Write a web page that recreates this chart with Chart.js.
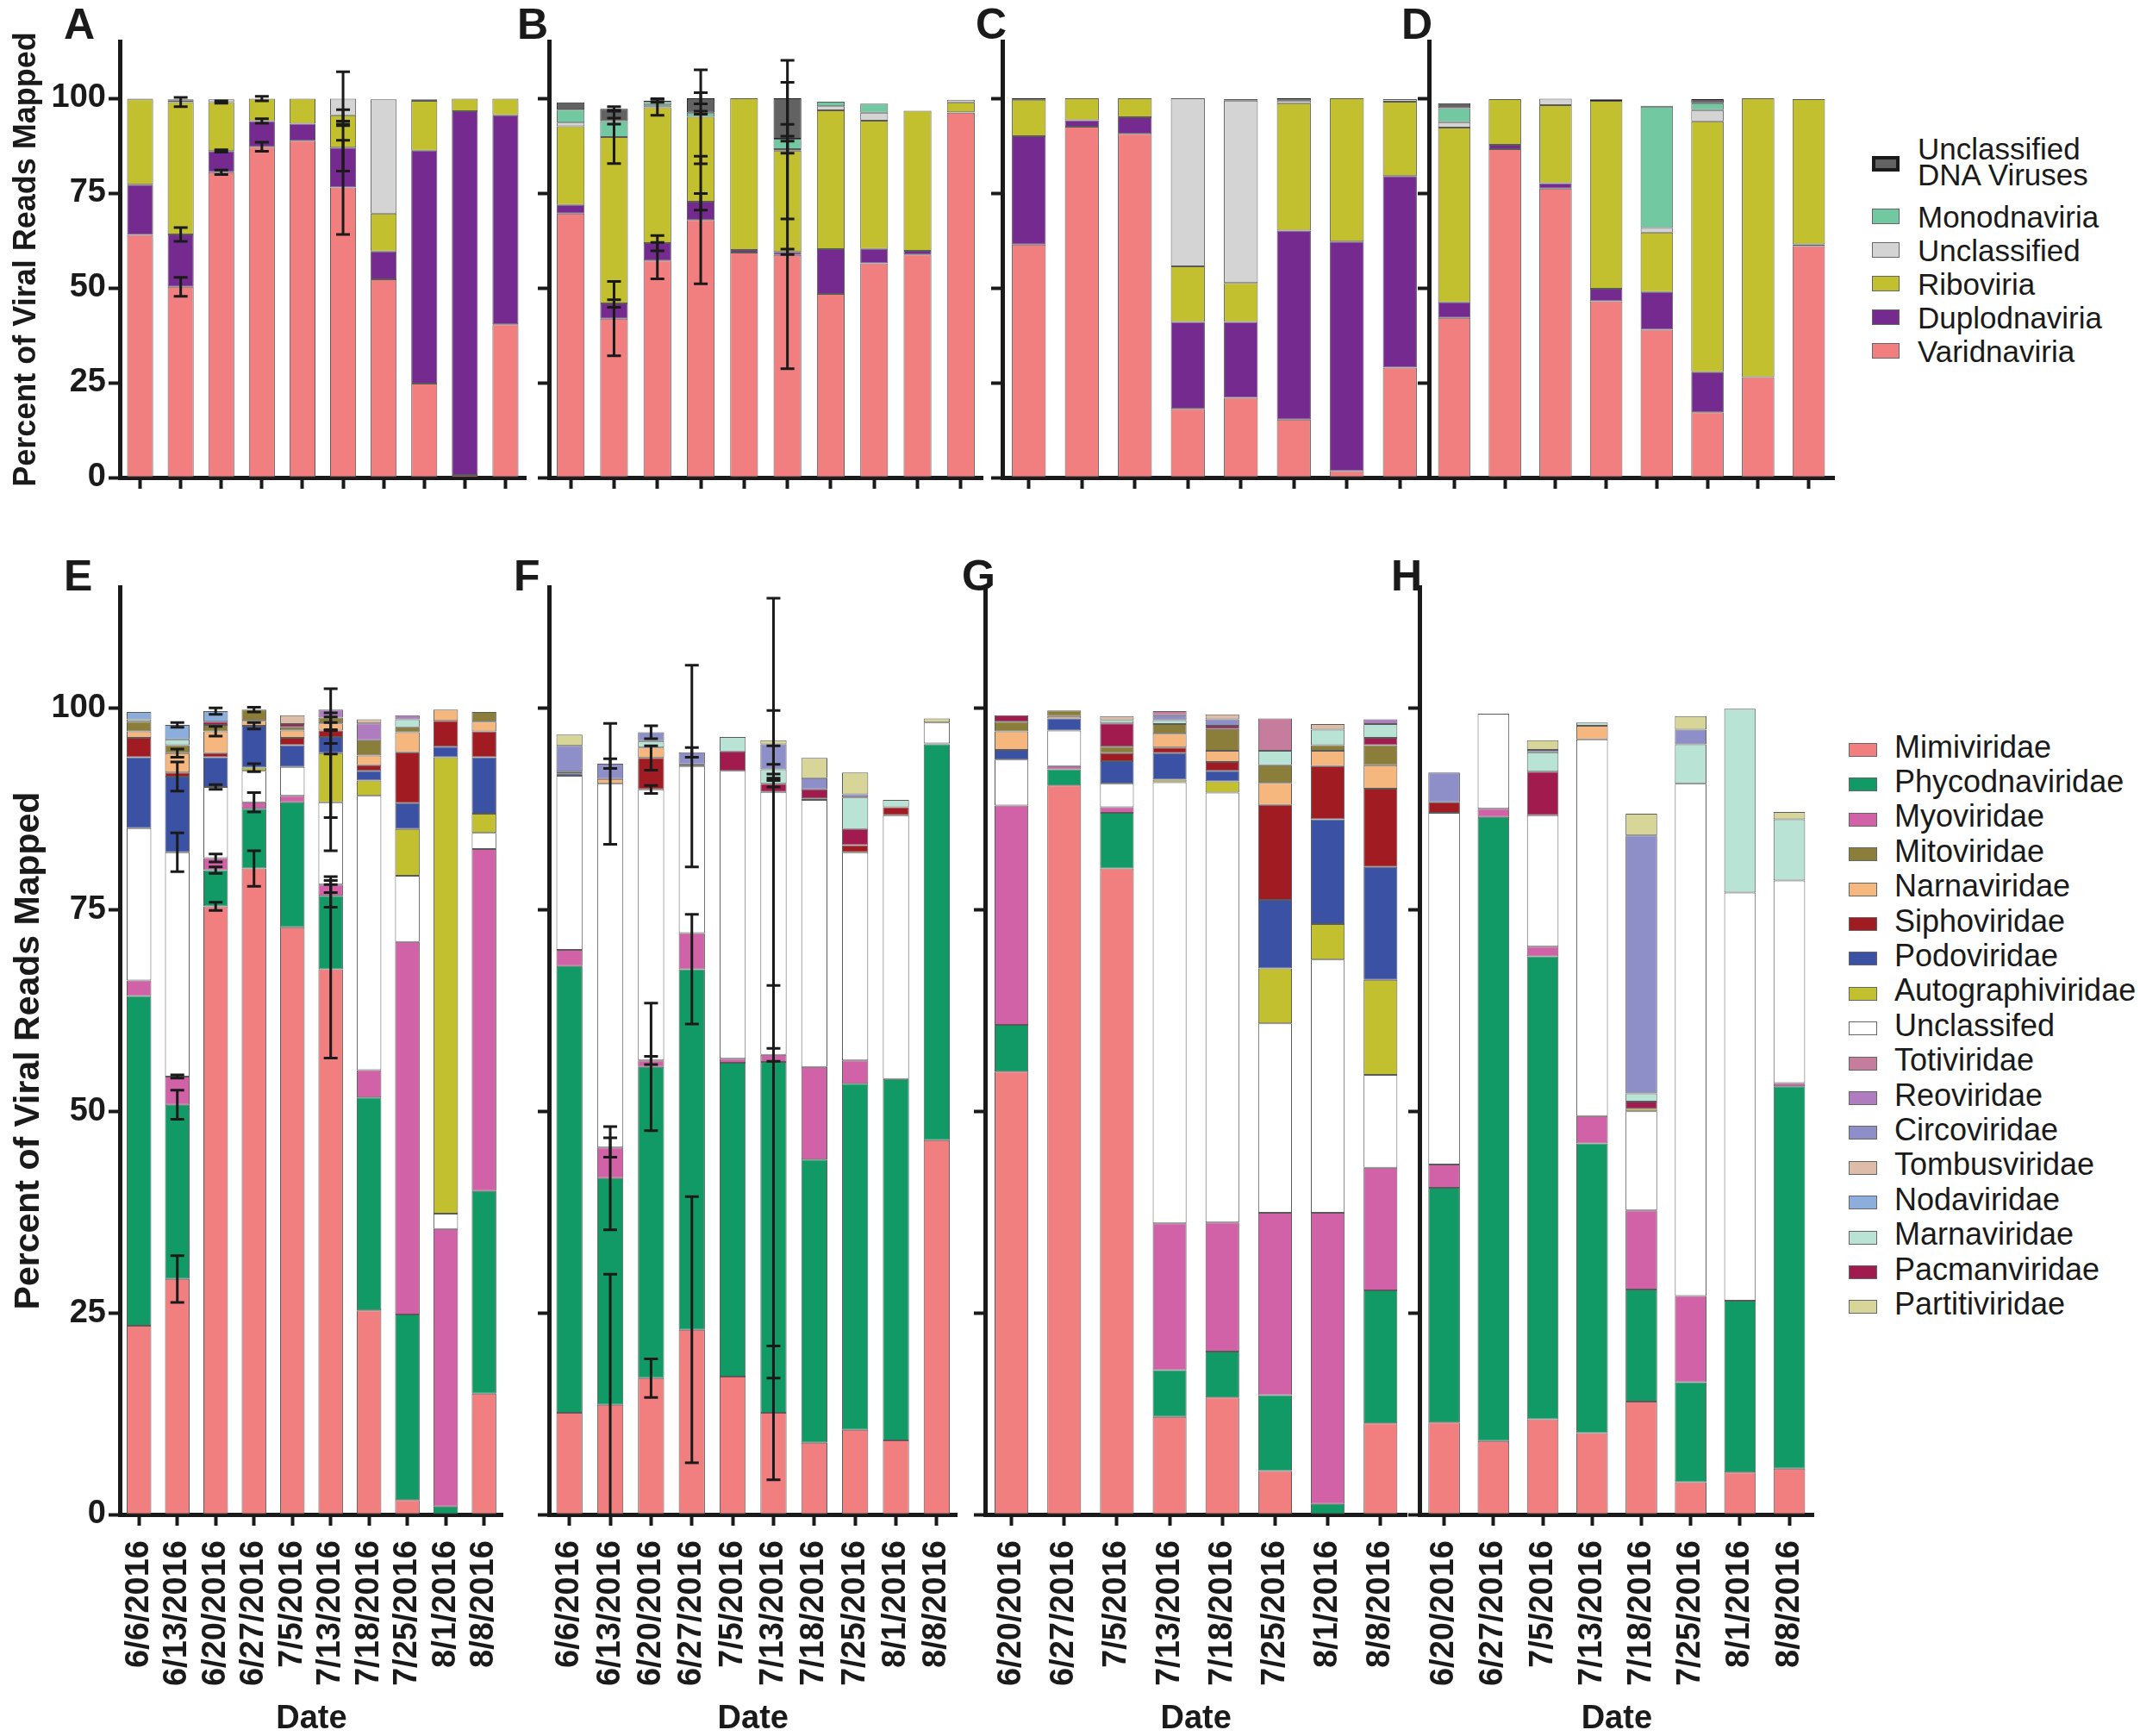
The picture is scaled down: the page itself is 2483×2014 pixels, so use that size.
<!DOCTYPE html>
<html>
<head>
<meta charset="utf-8">
<script src="https://cdn.jsdelivr.net/npm/chart.js@4.4.1/dist/chart.umd.min.js"></script>
<style>
  body { margin: 0; background: #fff; }
  #page { position: relative; width: 2483px; height: 2014px; overflow: hidden;
          font-family: 'Liberation Sans', Arial, Helvetica, sans-serif; color: #1a1a1a; }
  #page canvas { position: absolute; }
  .letter { position: absolute; font-weight: bold; font-size: 50px; line-height: 1; }
  .key { position: absolute; line-height: 1; white-space: nowrap; }
  .swatch { position: absolute; box-sizing: border-box; border: 1.5px solid #666; }
</style>
</head>
<body>
<div id="page"></div>
<script>
// sampling dates (panels A, B, E, F use all ten, C, D, G, H start on 6/20)
const datesLong = ['6/6/2016', '6/13/2016', '6/20/2016', '6/27/2016', '7/5/2016',
                   '7/13/2016', '7/18/2016', '7/25/2016', '8/1/2016', '8/8/2016'];
const datesShort = ['6/20/2016', '6/27/2016', '7/5/2016', '7/13/2016',
                    '7/18/2016', '7/25/2016', '8/1/2016', '8/8/2016'];
const yTicks = [0, 25, 50, 75, 100];
const yMax = 115;

// top row: realms, in stacking order (bottom first)
const realmNames = ['Varidnaviria', 'Duplodnaviria', 'Riboviria', 'Unclassified',
                    'Monodnaviria', 'Unclassified DNA Viruses'];
const realmColors = ['#f27f7f', '#742a8e', '#c3c02f', '#d4d4d4', '#72c8a0', '#626262'];

const realmA = [
  [64.0, 50.3, 80.5, 87.2, 88.8, 76.5, 52.3, 24.8, 0.7, 40.4],
  [13.2, 13.8, 5.6, 6.8, 4.5, 10.5, 7.3, 61.4, 95.9, 55.1],
  [22.5, 34.9, 12.9, 5.9, 6.6, 8.5, 10.0, 13.1, 3.3, 4.4],
  [0.2, 0.4, 0.7, 0, 0, 4.4, 30.1, 0.4, 0, 0],
  [0, 0.3, 0, 0, 0, 0, 0, 0, 0, 0],
  [0, 0, 0, 0, 0, 0, 0, 0, 0, 0]
];
const realmB = [
  [69.6, 41.9, 57.2, 67.9, 59.3, 58.7, 48.4, 56.5, 58.8, 96.2],
  [2.3, 4.0, 4.6, 4.8, 0.7, 0.8, 11.8, 3.8, 1.0, 0.1],
  [20.7, 43.9, 35.8, 22.4, 40.0, 26.7, 36.6, 33.8, 36.9, 2.6],
  [1.0, 0, 0.5, 0, 0, 0.4, 1.1, 2.1, 0, 0.7],
  [3.4, 4.2, 0.9, 1.1, 0, 2.7, 1.2, 2.4, 0, 0],
  [1.9, 3.2, 0.4, 3.8, 0, 10.7, 0, 0, 0, 0]
];
const realmC = [
  [61.4, 92.5, 90.6, 18.1, 21.0, 15.3, 1.7, 29.0],
  [28.6, 1.7, 4.4, 22.9, 20.0, 49.8, 60.5, 50.5],
  [9.6, 5.8, 5.0, 14.7, 10.3, 33.6, 37.8, 19.6],
  [0, 0, 0, 44.3, 48.1, 0.7, 0, 0.7],
  [0, 0, 0, 0, 0.4, 0, 0, 0],
  [0.4, 0, 0, 0, 0, 0.6, 0, 0]
];
const realmD = [
  [42.1, 86.6, 76.2, 46.5, 39.0, 17.2, 26.5, 61.0],
  [4.1, 1.1, 1.4, 3.3, 9.9, 10.6, 0, 0.5],
  [46.1, 12.1, 20.6, 49.5, 15.7, 66.1, 73.5, 38.3],
  [1.4, 0, 1.7, 0, 1.2, 3.0, 0, 0],
  [3.7, 0, 0, 0, 32.0, 1.8, 0, 0],
  [1.3, 0, 0, 0.4, 0.2, 1.1, 0, 0]
];

// bottom row: families, in stacking order (bottom first)
const familyNames = ['Mimiviridae', 'Phycodnaviridae', 'Myoviridae', 'Unclassifed',
  'Autographiviridae', 'Podoviridae', 'Siphoviridae', 'Narnaviridae', 'Mitoviridae',
  'Pacmanviridae', 'Marnaviridae', 'Circoviridae', 'Totiviridae', 'Reoviridae',
  'Tombusviridae', 'Nodaviridae', 'Partitiviridae'];
const familyColors = ['#f27f7f', '#129a66', '#d262a7', '#ffffff',
  '#c3c02f', '#3b52a4', '#a01c22', '#f6b77e', '#8b7d3a',
  '#a11b4e', '#b8e3d5', '#8e8fc8', '#c67c9c', '#b07cc0',
  '#ddbda8', '#8caedd', '#d8d598'];
// order in which the legend lists them
const familyLegend = ['Mimiviridae', 'Phycodnaviridae', 'Myoviridae', 'Mitoviridae',
  'Narnaviridae', 'Siphoviridae', 'Podoviridae', 'Autographiviridae', 'Unclassifed',
  'Totiviridae', 'Reoviridae', 'Circoviridae', 'Tombusviridae', 'Nodaviridae',
  'Marnaviridae', 'Pacmanviridae', 'Partitiviridae'];

const familyE = [
  [23.4, 29.2, 75.4, 80.1, 72.8, 67.6, 25.3, 1.8, 0, 15.0],
  [40.9, 21.6, 4.5, 7.4, 15.5, 9.1, 26.4, 23.0, 1.0, 25.1],
  [1.9, 3.5, 1.5, 0.8, 0.8, 1.4, 3.4, 46.2, 34.4, 42.4],
  [18.9, 27.8, 8.8, 3.9, 3.6, 10.2, 34.0, 8.2, 1.9, 2.0],
  [0, 0, 0, 0.4, 0, 6.1, 1.9, 5.8, 56.6, 2.4],
  [8.8, 9.4, 3.7, 5.2, 2.7, 2.0, 1.2, 3.2, 1.3, 7.0],
  [2.4, 0.5, 0.5, 0, 0.9, 0.8, 0.7, 6.3, 3.2, 3.2],
  [0.8, 2.4, 2.7, 0.6, 0.9, 0.9, 1.2, 2.5, 1.4, 1.2],
  [1.2, 1.0, 0.8, 1.4, 0.4, 0.7, 1.9, 0.6, 0, 1.2],
  [0, 0, 0.4, 0, 0.4, 0, 0, 0, 0, 0],
  [0.3, 0.7, 0, 0, 0, 0, 0, 1.0, 0, 0],
  [0, 0, 0, 0, 0, 0, 0, 0, 0, 0],
  [0, 0, 0, 0, 0, 0, 0, 0, 0, 0],
  [0, 0, 0, 0, 0, 1.0, 2.1, 0.5, 0, 0],
  [0, 0, 0, 0, 1.1, 0, 0.5, 0, 0, 0],
  [0.9, 1.8, 1.3, 0, 0, 0, 0, 0, 0, 0],
  [0, 0, 0, 0, 0, 0, 0, 0, 0, 0]
];
const familyF = [
  [12.6, 13.6, 16.9, 22.9, 17.1, 12.6, 8.9, 10.5, 9.2, 46.4],
  [55.4, 28.1, 38.6, 44.7, 38.9, 43.5, 35.1, 42.9, 44.8, 49.1],
  [2.0, 3.8, 0.8, 4.5, 0.5, 0.9, 11.5, 2.9, 0, 0.1],
  [21.6, 45.1, 33.6, 20.7, 35.7, 32.6, 33.1, 25.8, 32.7, 2.6],
  [0, 0, 0, 0, 0, 0, 0.2, 0, 0, 0],
  [0.3, 0, 0, 0, 0, 0, 0, 0, 0, 0],
  [0, 0, 3.9, 0.2, 0, 0, 0, 0.9, 1.0, 0],
  [0.2, 0.6, 1.3, 0, 0, 0, 0, 0, 0, 0],
  [0, 0, 0, 0, 0, 0, 0, 0, 0, 0],
  [0, 0, 0, 0, 2.4, 1.0, 1.1, 2.0, 0, 0],
  [0, 0, 0.8, 0, 1.8, 1.8, 0, 3.9, 0.9, 0],
  [3.2, 1.9, 1.1, 1.5, 0, 3.1, 1.4, 0.4, 0, 0],
  [0, 0, 0, 0, 0, 0, 0, 0, 0, 0],
  [0, 0, 0, 0, 0, 0, 0, 0, 0, 0],
  [0, 0, 0, 0, 0, 0, 0, 0, 0, 0],
  [0, 0, 0, 0, 0, 0, 0, 0, 0, 0],
  [1.4, 0, 0, 0, 0, 0.5, 2.5, 2.7, 0, 0.5]
];
const familyG = [
  [54.9, 90.4, 80.1, 12.1, 14.5, 5.4, 0, 11.3],
  [5.8, 2.0, 6.9, 5.8, 5.7, 9.4, 1.3, 16.5],
  [27.2, 0.4, 0.7, 18.2, 16.0, 22.6, 36.1, 15.2],
  [5.7, 4.4, 2.9, 54.7, 53.3, 23.5, 31.4, 11.5],
  [0, 0, 0, 0.3, 1.4, 6.8, 4.4, 11.8],
  [1.2, 1.5, 2.8, 3.3, 1.3, 8.5, 13.0, 14.0],
  [0, 0, 1.0, 0.7, 1.1, 11.8, 6.6, 9.7],
  [2.3, 0.3, 0, 1.7, 1.4, 2.7, 1.9, 2.9],
  [1.2, 0.7, 0.8, 1.2, 2.7, 2.2, 0.7, 2.5],
  [0.8, 0, 2.9, 0, 0.4, 0, 0, 0.9],
  [0, 0, 0.4, 0.5, 0, 1.8, 1.9, 1.7],
  [0, 0, 0, 0.6, 0.8, 0, 0, 0],
  [0, 0, 0, 0.5, 0, 4.0, 0, 0],
  [0, 0, 0, 0, 0, 0, 0, 0.6],
  [0, 0, 0.5, 0, 0.6, 0, 0.7, 0],
  [0, 0, 0, 0, 0, 0, 0, 0],
  [0, 0, 0, 0, 0, 0, 0, 0]
];
const familyH = [
  [11.4, 9.1, 11.8, 10.1, 14.0, 4.0, 5.2, 5.7],
  [29.1, 77.4, 57.4, 35.9, 13.9, 12.4, 21.3, 47.4],
  [2.9, 1.0, 1.2, 3.4, 9.8, 10.7, 0, 0.4],
  [43.6, 11.8, 16.3, 46.7, 12.3, 63.5, 50.6, 25.1],
  [0, 0, 0, 0, 0.3, 0, 0, 0],
  [0, 0, 0, 0, 0, 0, 0, 0],
  [1.3, 0, 0, 0, 0, 0, 0, 0],
  [0, 0, 0, 1.7, 0, 0, 0, 0],
  [0, 0, 0, 0, 0, 0, 0, 0],
  [0, 0, 5.4, 0, 0.9, 0, 0, 0],
  [0, 0, 2.4, 0.4, 1.0, 4.9, 22.8, 7.6],
  [3.7, 0, 0.3, 0, 32.0, 1.8, 0, 0],
  [0, 0, 0, 0, 0, 0, 0, 0],
  [0, 0, 0, 0, 0, 0, 0, 0],
  [0, 0, 0, 0, 0, 0, 0, 0],
  [0, 0, 0, 0, 0, 0, 0, 0],
  [0, 0, 1.2, 0, 2.7, 1.7, 0, 0.9]
];

// error bars: [series index, date index, +/- value] at the top of that segment
const errA = [[0, 1, 2.5], [1, 1, 1.8], [2, 1, 1.2],
  [0, 2, 0.6], [1, 2, 0.3], [2, 2, 0.3],
  [0, 3, 1.2], [1, 3, 0.6], [2, 3, 0.6],
  [0, 5, 12.4], [1, 5, 6.2], [2, 5, 1.5], [3, 5, 7.1]];
const errB = [[0, 1, 9.8], [1, 1, 1.0], [2, 1, 7.0], [4, 1, 0.8], [5, 1, 0.6],
  [0, 2, 4.8], [1, 2, 2.0], [2, 2, 2.1], [5, 2, 0.5],
  [0, 3, 16.8], [1, 3, 2.2], [2, 3, 12.4], [4, 3, 0.4], [5, 3, 1.5],
  [0, 5, 30.0], [1, 5, 0.7], [2, 5, 18.0], [4, 5, 3.8], [5, 5, 10.0]];
const errE = [[0, 1, 2.9], [1, 1, 1.8], [2, 1, 0.2], [3, 1, 2.4], [5, 1, 1.8], [7, 1, 0.5], [15, 1, 0.3],
  [0, 2, 0.5], [1, 2, 0.4], [2, 2, 0.5], [3, 2, 0.3], [7, 2, 0.6], [15, 2, 0.4],
  [0, 3, 2.2], [2, 3, 1.2], [4, 3, 0.5], [5, 3, 0.4], [8, 3, 0.3],
  [0, 5, 11.0], [1, 5, 1.4], [2, 5, 1.0], [3, 5, 6.0], [4, 5, 8.0], [5, 5, 0.8], [7, 5, 0.8], [8, 5, 0.6]];
const errF = [[0, 1, 16.2], [1, 1, 6.4], [2, 1, 1.2], [3, 1, 7.5], [11, 1, 0.6],
  [0, 2, 2.4], [1, 2, 7.9], [2, 2, 0.5], [3, 2, 0.5], [6, 2, 1.5], [11, 2, 0.8],
  [0, 3, 16.5], [1, 3, 6.8], [3, 3, 12.5], [11, 3, 0.6],
  [0, 5, 8.3], [1, 5, 39.2], [2, 5, 0.8], [3, 5, 24.0], [9, 5, 0.4], [10, 5, 0.6], [11, 5, 4.2]];

const ink = '#1a1a1a';
const family = "'Liberation Sans', Arial, Helvetica, sans-serif";
const page = document.getElementById('page');

// dates and the "Date" title use a condensed bold face when one is installed
function narrowInstalled() {
  const ctx = document.createElement('canvas').getContext('2d');
  const probe = '6/20/2016 Date';
  ctx.font = "bold 40px 'Liberation Sans'";
  const wide = ctx.measureText(probe).width;
  ctx.font = "bold 40px 'Liberation Sans Narrow', 'Liberation Sans'";
  return ctx.measureText(probe).width < wide * 0.9;
}
const hasNarrow = narrowInstalled();
const narrowFamily = hasNarrow ? "'Liberation Sans Narrow', 'Liberation Sans', Arial, sans-serif" : family;
const dateSize = hasNarrow ? 42 : 38;
const dateTitleSize = hasNarrow ? 42 : 38;

// draws +/- bars at the stacked top of a segment, through the y scale
const errorBars = {
  id: 'errorBars',
  afterDatasetsDraw(chart, args, opts) {
    const yScale = chart.scales.y;
    const sets = chart.data.datasets;
    const ctx = chart.ctx;
    ctx.save();
    ctx.strokeStyle = ink;
    ctx.lineWidth = 3;
    (opts.list || []).forEach(([k, i, err]) => {
      let top = 0;
      for (let j = 0; j <= k; j++) top += sets[j].data[i];
      const x = chart.getDatasetMeta(k).data[i].x;
      const hi = yScale.getPixelForValue(top + err);
      const low = top - err;
      const lo = yScale.getPixelForValue(Math.max(low, 0));
      ctx.beginPath();
      ctx.moveTo(x, hi); ctx.lineTo(x, lo);
      ctx.moveTo(x - 8, hi); ctx.lineTo(x + 8, hi);
      if (low > 0) { ctx.moveTo(x - 8, lo); ctx.lineTo(x + 8, lo); }
      ctx.stroke();
    });
    ctx.restore();
  }
};

function makePanel(p) {
  const canvas = document.createElement('canvas');
  canvas.width = p.w;
  canvas.height = p.h;
  canvas.style.left = p.x + 'px';
  canvas.style.top = p.y + 'px';
  page.appendChild(canvas);

  const datasets = p.names.map((name, k) => ({
    label: name,
    data: p.values[k],
    backgroundColor: p.colors[k],
    borderColor: name === 'Unclassified DNA Viruses' ? '#222' : '#5a5a5a',
    borderWidth: 1,
    borderSkipped: false,
    barPercentage: 0.64,
    categoryPercentage: 1
  }));

  new Chart(canvas, {
    type: 'bar',
    data: { labels: p.labels, datasets },
    options: {
      responsive: false,
      animation: false,
      devicePixelRatio: 1,
      layout: { padding: { top: p.padTop, right: p.padRight, left: 0, bottom: 0 } },
      plugins: {
        legend: { display: false },
        tooltip: { enabled: false },
        errorBars: { list: p.errors || [] }
      },
      scales: {
        x: {
          stacked: true,
          offset: true,
          afterFit: s => { s.height = p.axisH; },
          border: { display: true, width: 5, color: ink },
          grid: { display: true, offset: false, drawOnChartArea: false, drawTicks: true,
                  tickLength: 13, tickWidth: 4, tickColor: ink },
          ticks: { display: p.showX, autoSkip: false, minRotation: 90, maxRotation: 90,
                   padding: 17, color: ink,
                   font: { family: narrowFamily, size: dateSize, weight: 'bold' } },
          title: { display: p.showX, text: 'Date', color: ink, padding: { top: 0, bottom: 0 },
                   font: { family: narrowFamily, size: dateTitleSize, weight: 'bold', lineHeight: 1 } }
        },
        y: {
          stacked: true,
          min: 0,
          max: yMax,
          afterBuildTicks: s => { s.ticks = yTicks.map(v => ({ value: v })); },
          afterFit: s => { s.width = p.axisW; },
          border: { display: true, width: 5, color: ink },
          grid: { display: true, drawOnChartArea: false, drawTicks: true,
                  tickLength: 13, tickWidth: 4, tickColor: ink },
          ticks: { display: p.showY, padding: 3, color: ink,
                   font: { family, size: 38, weight: 'bold' } },
          title: { display: p.showY, text: 'Percent of Viral Reads Mapped', color: ink,
                   padding: { top: 13, bottom: 0 },
                   font: { family, size: p.titleSize || 36, weight: 'bold', lineHeight: 1 } }
        }
      }
    },
    plugins: [errorBars]
  });
}

const topRow = { y: 0, h: 600, padTop: 48, axisH: 46, showX: false,
                 names: realmNames, colors: realmColors };
const bottomRow = { y: 600, h: 1414, padTop: 81, axisH: 257, showX: true,
                    names: familyNames, colors: familyColors };

makePanel({ ...topRow, x: 0, w: 625, axisW: 139, padRight: 15, showY: true, titleSize: 36,
            labels: datesLong, values: realmA, errors: errA });
makePanel({ ...topRow, x: 605, w: 545, axisW: 32, padRight: 10, showY: false,
            labels: datesLong, values: realmB, errors: errB });
makePanel({ ...topRow, x: 1130, w: 535, axisW: 33, padRight: 10, showY: false,
            labels: datesShort, values: realmC });
makePanel({ ...topRow, x: 1625, w: 515, axisW: 33, padRight: 12, showY: false,
            labels: datesShort, values: realmD });

makePanel({ ...bottomRow, x: 0, w: 625, axisW: 139, padRight: 15, showY: true, titleSize: 41,
            labels: datesLong, values: familyE, errors: errE });
makePanel({ ...bottomRow, x: 605, w: 545, axisW: 32, padRight: 10, showY: false,
            labels: datesLong, values: familyF, errors: errF });
makePanel({ ...bottomRow, x: 1110, w: 555, axisW: 33, padRight: 10, showY: false,
            labels: datesShort, values: familyG });
makePanel({ ...bottomRow, x: 1614, w: 526, axisW: 33, padRight: 21, showY: false,
            labels: datesShort, values: familyH });

// panel letters
[['A', 74, 3], ['B', 600, 3], ['C', 1132, 3], ['D', 1626, 3],
 ['E', 74, 643], ['F', 596, 643], ['G', 1116, 643], ['H', 1614, 643]].forEach(([t, x, y]) => {
  const d = document.createElement('div');
  d.className = 'letter';
  d.textContent = t;
  d.style.left = x + 'px';
  d.style.top = y + 'px';
  page.appendChild(d);
});

function addKey(text, color, border, box, textX, cy, size, textTop) {
  const sw = document.createElement('div');
  sw.className = 'swatch';
  sw.style.left = box.x + 'px';
  sw.style.top = (cy - box.h / 2) + 'px';
  sw.style.width = box.w + 'px';
  sw.style.height = box.h + 'px';
  sw.style.background = color;
  if (border) sw.style.border = border;
  page.appendChild(sw);
  const t = document.createElement('div');
  t.className = 'key';
  t.innerHTML = text;
  t.style.fontSize = size + 'px';
  t.style.left = textX + 'px';
  t.style.top = textTop + 'px';
  if (text.includes('<br>')) t.style.lineHeight = '30px';
  page.appendChild(t);
}

// top legend lists the stack from its top down
const realmRows = [190, 251, 290, 329, 368, 407];
realmNames.slice().reverse().forEach((name, r) => {
  const k = realmNames.indexOf(name);
  const isDna = name === 'Unclassified DNA Viruses';
  const label = isDna ? 'Unclassified<br>DNA Viruses' : name;
  const cy = realmRows[r];
  addKey(label, realmColors[k], isDna ? '4px solid #1a1a1a' : null,
         { x: 2172, w: 32, h: 18 }, 2225, cy, 35, isDna ? 158 : cy - 17.5);
});

familyLegend.forEach((name, r) => {
  const k = familyNames.indexOf(name);
  const cy = 870 + r * 40.4;
  addKey(name, familyColors[k], null, { x: 2145, w: 33, h: 16 }, 2198, cy, 36, cy - 21.5);
});
</script>
</body>
</html>
